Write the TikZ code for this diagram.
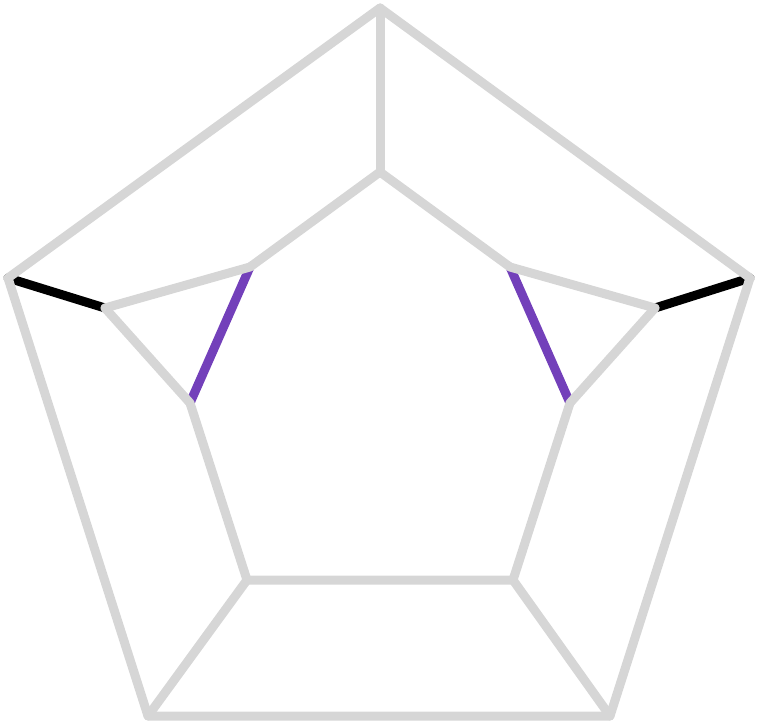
\documentclass[tikz,border=0pt]{standalone}
\usetikzlibrary{positioning}

\begin{document}
\begin{tikzpicture}[
				x=0.5pt, y=-0.5pt,
				edge/.style={draw=black!16, line width=4.5pt, line cap=round, line join=round},
				bridge/.style={edge, draw=black},
				cutedge/.style={edge, draw={rgb,255:red,115;green,64;blue,186}}
			]
			\useasboundingbox (0,0) rectangle (760,722);
			% outer ring
			\coordinate (o1) at (380,8);
			\coordinate (o2) at (8,278);
			\coordinate (o3) at (148,716);
			\coordinate (o4) at (610,716);
			\coordinate (o5) at (750,278);
			% inner ring
			\coordinate (i1) at (380,172);
			\coordinate (i2) at (250,267);
			\coordinate (i3) at (510,267);
			\coordinate (m2) at (105,308);
			\coordinate (m3) at (655,308);
			\coordinate (i4) at (190,403);
			\coordinate (i5) at (570,403);
			\coordinate (i6) at (247,580);
			\coordinate (i7) at (513,580);

			\draw[bridge] (o2) -- (m2);
			\draw[bridge] (o5) -- (m3);
			\draw[cutedge] (i2) -- (i4);
			\draw[cutedge] (i3) -- (i5);

			\draw[edge] (o1) -- (o2) -- (o3) -- (o4) -- (o5) -- cycle;
			\draw[edge] (o1) -- (i1);
			\draw[edge] (m2) -- (i2) -- (i1) -- (i3) -- (m3);
			\draw[edge] (m2) -- (i4) -- (i6) -- (i7) -- (i5) -- (m3);
			\draw[edge] (i6) -- (o3);
			\draw[edge] (i7) -- (o4);
		\end{tikzpicture}
\end{document}
